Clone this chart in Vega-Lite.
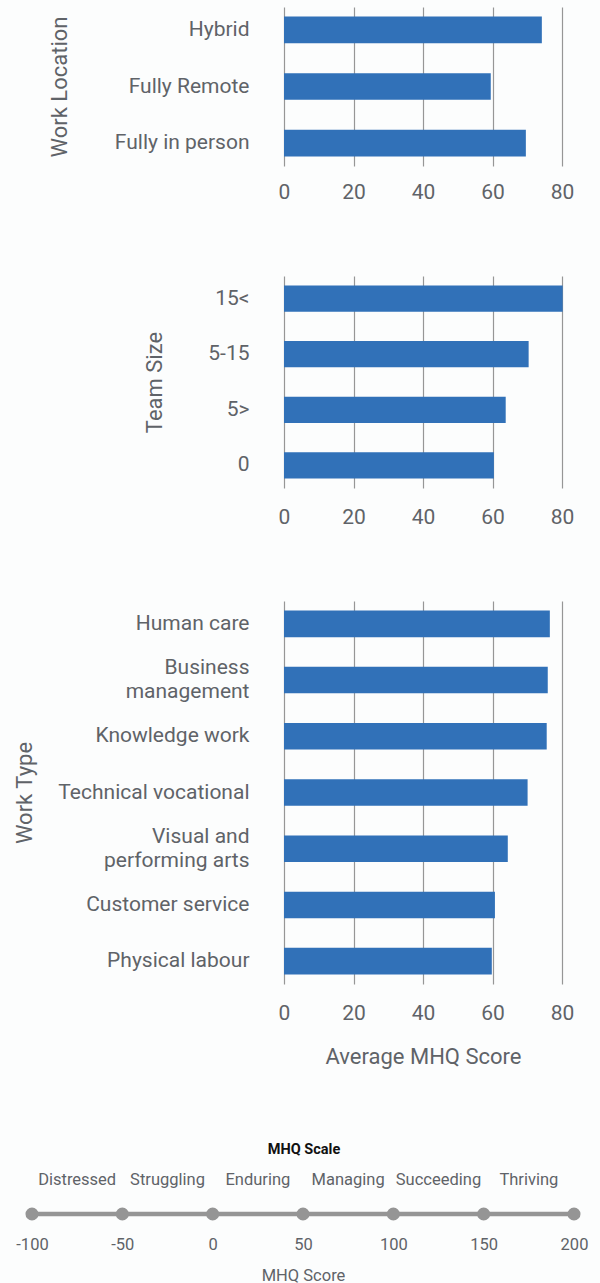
{
  "$schema": "https://vega.github.io/schema/vega-lite/v6.json",
  "background": "#fcfdfd",
  "padding": {"left": 13, "top": 7, "right": 10, "bottom": 0},
  "config": {
    "font": "Roboto",
    "view": {"stroke": null},
    "axis": {
      "labelColor": "#5f6368",
      "titleColor": "#5f6368",
      "labelFont": "Roboto",
      "titleFont": "Roboto",
      "titleFontWeight": "normal",
      "domain": false,
      "ticks": false
    },
    "axisX": {"grid": true, "gridColor": "#969696", "gridWidth": 1.2, "labelFlush": false, "labelFontSize": 21, "labelPadding": 18, "titleFontSize": 22, "titlePadding": 23},
    "axisY": {"grid": false, "labelFontSize": 21, "labelPadding": 35, "titleFontSize": 22, "titlePadding": 40, "labelLimit": 300}
  },
  "datasets": {
    "location": [
      {"category": "Hybrid", "score": 74.2},
      {"category": "Fully Remote", "score": 59.5},
      {"category": "Fully in person", "score": 69.6}
    ],
    "team": [
      {"category": "15<", "score": 80.2},
      {"category": "5-15", "score": 70.4},
      {"category": "5>", "score": 63.8},
      {"category": "0", "score": 60.4}
    ],
    "worktype": [
      {"category": "Human care", "score": 76.5},
      {"category": "Business management", "score": 75.9},
      {"category": "Knowledge work", "score": 75.6},
      {"category": "Technical vocational", "score": 70.1},
      {"category": "Visual and performing arts", "score": 64.4},
      {"category": "Customer service", "score": 60.7},
      {"category": "Physical labour", "score": 59.8}
    ],
    "scaleLine": [{"start": -100, "end": 200, "level": 0}],
    "scalePoints": [
      {"value": -100, "level": 0},
      {"value": -50, "level": 0},
      {"value": 0, "level": 0},
      {"value": 50, "level": 0},
      {"value": 100, "level": 0},
      {"value": 150, "level": 0},
      {"value": 200, "level": 0}
    ],
    "scaleBands": [
      {"name": "Distressed", "mid": -75, "level": 1},
      {"name": "Struggling", "mid": -25, "level": 1},
      {"name": "Enduring", "mid": 25, "level": 1},
      {"name": "Managing", "mid": 75, "level": 1},
      {"name": "Succeeding", "mid": 125, "level": 1},
      {"name": "Thriving", "mid": 175, "level": 1}
    ]
  },
  "spacing": 74,
  "vconcat": [
    {
      "data": {"name": "location"},
      "width": 278,
      "height": 159,
      "mark": {"type": "bar", "color": "#3171b8"},
      "encoding": {
        "y": {"field": "category", "type": "nominal", "sort": null,
              "scale": {"paddingInner": 0.527, "paddingOuter": 0.17},
              "axis": {"title": "Work Location", "titlePadding": 43}},
        "x": {"field": "score", "type": "quantitative",
              "scale": {"domain": [0, 80]},
              "axis": {"title": null, "values": [0, 20, 40, 60, 80], "labelPadding": 15}}
      }
    },
    {
      "data": {"name": "team"},
      "width": 278,
      "height": 212,
      "mark": {"type": "bar", "color": "#3171b8"},
      "encoding": {
        "y": {"field": "category", "type": "nominal", "sort": null,
              "scale": {"paddingInner": 0.527, "paddingOuter": 0.17},
              "axis": {"title": "Team Size", "titlePadding": 41}},
        "x": {"field": "score", "type": "quantitative",
              "scale": {"domain": [0, 80]},
              "axis": {"title": null, "values": [0, 20, 40, 60, 80]}}
      }
    },
    {
      "data": {"name": "worktype"},
      "width": 278,
      "height": 383,
      "mark": {"type": "bar", "color": "#3171b8"},
      "encoding": {
        "y": {"field": "category", "type": "nominal", "sort": null,
              "scale": {"paddingInner": 0.527, "paddingOuter": 0.17},
              "axis": {"title": "Work Type", "titlePadding": 48, "labelLineHeight": 24,
                       "labelOffset": {"condition": {"test": "datum.value === 'Business management' || datum.value === 'Visual and performing arts'", "value": -12}, "value": 0},
                       "labelExpr": "datum.value === 'Business management' ? ['Business', 'management'] : datum.value === 'Visual and performing arts' ? ['Visual and', 'performing arts'] : datum.label"}},
        "x": {"field": "score", "type": "quantitative",
              "scale": {"domain": [0, 80]},
              "axis": {"title": "Average MHQ Score", "values": [0, 20, 40, 60, 80]}}
      }
    },
    {
      "width": 290,
      "height": 34,
      "title": {"text": "MHQ Scale", "fontSize": 14.5, "fontWeight": "bold", "color": "#111111", "offset": 15, "font": "Roboto", "anchor": "middle", "dx": -125},
      "layer": [
        {
          "data": {"name": "scaleLine"},
          "mark": {"type": "rule", "color": "#959595", "strokeWidth": 4.5},
          "encoding": {
            "x": {"field": "start", "type": "quantitative",
                  "scale": {"domain": [-100, 200], "nice": false, "range": [-252, 290]},
                  "axis": {"title": "MHQ Score", "values": [-100, -50, 0, 50, 100, 150, 200],
                           "labelExpr": "datum.value < 0 ? '-' + abs(datum.value) : datum.label",
                           "labelFlush": false, "labelOverlap": false,
                           "grid": false, "labelFontSize": 16.5, "labelPadding": 22,
                           "titleFontSize": 16.5, "titlePadding": 15}},
            "x2": {"field": "end"},
            "y": {"field": "level", "type": "quantitative", "scale": {"domain": [0, 1]}, "axis": null}
          }
        },
        {
          "data": {"name": "scalePoints"},
          "mark": {"type": "circle", "size": 170, "color": "#959595", "opacity": 1},
          "encoding": {
            "x": {"field": "value", "type": "quantitative"},
            "y": {"field": "level", "type": "quantitative"}
          }
        },
        {
          "data": {"name": "scaleBands"},
          "mark": {"type": "text", "fontSize": 16.5, "color": "#5f6368", "font": "Roboto"},
          "encoding": {
            "x": {"field": "mid", "type": "quantitative"},
            "y": {"field": "level", "type": "quantitative"},
            "text": {"field": "name"}
          }
        }
      ]
    }
  ]
}
